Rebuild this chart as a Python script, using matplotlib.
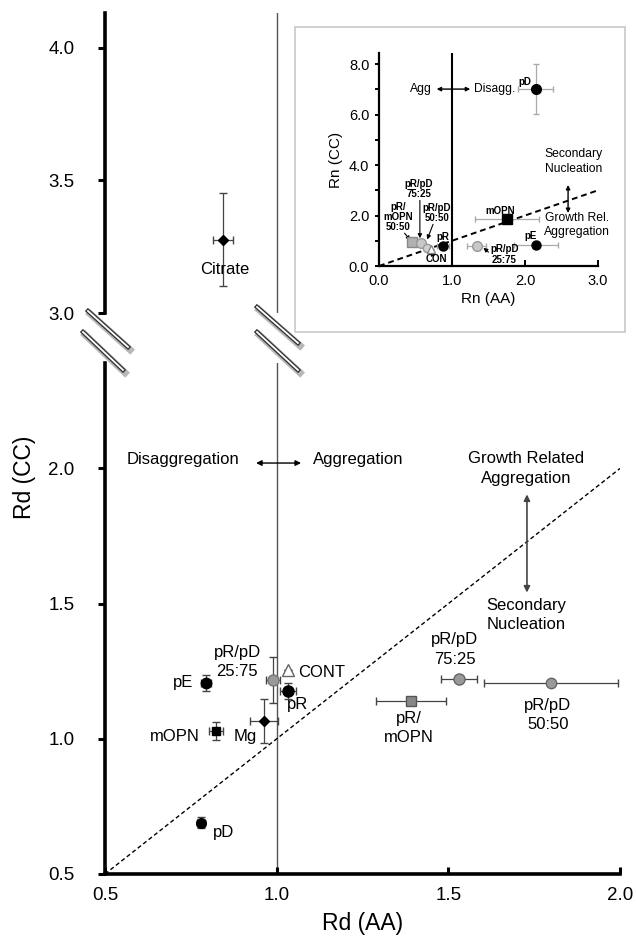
import matplotlib.pyplot as plt
import matplotlib.patheffects as pe
from matplotlib.lines import Line2D
from matplotlib.patches import Rectangle
import numpy as np

plt.rcParams['font.family'] = ['Liberation Sans', 'DejaVu Sans']

# main chart: Rd values (AA vs CC)
names = ['Citrate', 'pE', 'pR/pD 25:75', 'CONT', 'pR', 'Mg', 'mOPN', 'pD',
         'pR/mOPN', 'pR/pD 75:25', 'pR/pD 50:50']
rd_aa = [0.844, 0.794, 0.989, 1.033, 1.033, 0.963, 0.823, 0.780, 1.391, 1.531, 1.799]
rd_cc = [3.276, 1.207, 1.218, 1.256, 1.178, 1.067, 1.030, 0.689, 1.141, 1.222, 1.207]
rd_aa_err = [0.03, 0.015, 0.02, 0.0, 0.023, 0.04, 0.02, 0.012, 0.103, 0.052, 0.195]
rd_cc_err = [0.175, 0.03, 0.085, 0.0, 0.03, 0.082, 0.033, 0.02, 0.0, 0.0, 0.0]

# inset: Rn values
rn_names = ['pD', 'mOPN', 'pE', 'pR', 'pR/pD 25:75', 'pR/mOPN 50:50',
            'pR/pD 75:25', 'pR/pD 50:50', 'CON']
rn_aa = [2.15, 1.75, 2.15, 0.88, 1.34, 0.45, 0.58, 0.66, 0.71]
rn_cc = [7.01, 1.86, 0.83, 0.80, 0.80, 0.95, 0.91, 0.71, 0.67]
rn_aa_err = [0.24, 0.44, 0.30, 0.08, 0.13, 0.0, 0.0, 0.0, 0.0]
rn_cc_err = [1.0, 0.1, 0.1, 0.1, 0.1, 0.0, 0.0, 0.0, 0.0]

W, H = 636, 940


def fx(px):
    return px / W


def fy(py):
    return 1 - py / H


# marker styles (marker, face, edge, size)
main_style = {
    'Citrate': ('D', 'black', 'black', 5),
    'pE': ('o', 'black', 'black', 7.5),
    'pR/pD 25:75': ('o', '#999999', '#777777', 8),
    'CONT': ('^', 'white', '#666666', 8),
    'pR': ('o', 'black', 'black', 8),
    'Mg': ('D', 'black', 'black', 5),
    'mOPN': ('s', 'black', 'black', 6),
    'pD': ('o', 'black', 'black', 7),
    'pR/mOPN': ('s', '#888888', '#555555', 7.5),
    'pR/pD 75:25': ('o', '#999999', '#666666', 8),
    'pR/pD 50:50': ('o', '#999999', '#666666', 7.5),
}
inset_style = {
    'pD': ('o', 'black', 'black', 7),
    'mOPN': ('s', 'black', 'black', 6.5),
    'pE': ('o', 'black', 'black', 6.5),
    'pR': ('o', 'black', 'black', 6.5),
    'pR/pD 25:75': ('o', '#c8c8c8', '#999999', 7),
    'pR/mOPN 50:50': ('s', '#b0b0b0', '#888888', 6.5),
    'pR/pD 75:25': ('o', '#c8c8c8', '#999999', 7),
    'pR/pD 50:50': ('o', '#d0d0d0', '#999999', 6),
    'CON': ('^', 'white', '#888888', 6),
}

fig = plt.figure(figsize=(6.36, 9.40), dpi=100)
ax_lo = fig.add_axes([fx(105), fy(874), fx(620) - fx(105), fy(363) - fy(874)])
ax_hi = fig.add_axes([fx(105), fy(313), fx(620) - fx(105), fy(13) - fy(313)])

for ax in (ax_lo, ax_hi):
    for i, n in enumerate(names):
        m, fc, ec, ms = main_style[n]
        ax.errorbar(rd_aa[i], rd_cc[i], xerr=rd_aa_err[i], yerr=rd_cc_err[i],
                    fmt=m, mfc=fc, mec=ec, ms=ms, mew=1, ecolor='#444444',
                    elinewidth=0.9, capsize=3, capthick=0.9, zorder=3)
    ax.axvline(1.0, color='#555555', lw=1, zorder=1)
    ax.set_xlim(0.5, 2.0)
    ax.spines['top'].set_visible(False)
    ax.spines['right'].set_visible(False)
    ax.spines['left'].set_linewidth(2.6)
    ax.spines['bottom'].set_linewidth(2.6)
    ax.tick_params(axis='y', direction='out', length=5, width=2.2,
                   pad=17, labelsize=13.5)

ax_lo.set_ylim(0.5, 2.39)
ax_hi.set_ylim(3.0, 4.13)
ax_lo.plot([0.5, 2.0], [0.5, 2.0], ls=(0, (3, 2)), color='black', lw=1, zorder=2)

ax_lo.set_xticks([0.5, 1.0, 1.5, 2.0])
ax_lo.set_xticklabels(['0.5', '1.0', '1.5', '2.0'])
ax_lo.set_yticks([0.5, 1.0, 1.5, 2.0])
ax_lo.set_yticklabels(['0.5', '1.0', '1.5', '2.0'])
ax_lo.tick_params(axis='x', direction='in', length=5, width=2.2, pad=9, labelsize=13.5)
ax_hi.set_yticks([3.0, 3.5, 4.0])
ax_hi.set_yticklabels(['3.0', '3.5', '4.0'])
ax_hi.spines['bottom'].set_visible(False)
ax_hi.set_xticks([])

ax_lo.set_xlabel('Rd (AA)', fontsize=16.5, labelpad=6)
fig.text(fx(25), fy(477), 'Rd (CC)', rotation=90, fontsize=16.5, ha='center', va='center')

# point labels
fs = 12
ls2 = 1.35
ax_hi.text(0.85, 3.163, 'Citrate', fontsize=fs, ha='center', va='center')
ax_lo.text(0.758, 1.207, 'pE', fontsize=fs, ha='right', va='center')
ax_lo.text(0.885, 1.285, 'pR/pD\n25:75', fontsize=fs, ha='center', va='center', linespacing=ls2)
ax_lo.text(1.062, 1.244, 'CONT', fontsize=fs, ha='left', va='center')
ax_lo.text(1.03, 1.126, 'pR', fontsize=fs, ha='left', va='center')
ax_lo.text(0.942, 1.007, 'Mg', fontsize=fs, ha='right', va='center')
ax_lo.text(0.776, 1.007, 'mOPN', fontsize=fs, ha='right', va='center')
ax_lo.text(0.815, 0.652, 'pD', fontsize=fs, ha='left', va='center')
ax_lo.text(1.519, 1.33, 'pR/pD\n75:25', fontsize=fs, ha='center', va='center', linespacing=ls2)
ax_lo.text(1.386, 1.039, 'pR/\nmOPN', fontsize=fs, ha='center', va='center', linespacing=ls2)
ax_lo.text(1.79, 1.087, 'pR/pD\n50:50', fontsize=fs, ha='center', va='center', linespacing=ls2)

ax_lo.text(0.890, 2.033, 'Disaggregation', fontsize=fs, ha='right', va='center')
ax_lo.text(1.106, 2.033, 'Aggregation', fontsize=fs, ha='left', va='center')
ax_lo.annotate('', xy=(0.94, 2.02), xytext=(1.071, 2.02),
               arrowprops=dict(arrowstyle='<|-|>', color='black', lw=1,
                               mutation_scale=8, shrinkA=0, shrinkB=0))
ax_lo.text(1.726, 2.0, 'Growth Related\nAggregation', fontsize=fs, ha='center',
           va='center', linespacing=ls2)
ax_lo.text(1.726, 1.457, 'Secondary\nNucleation', fontsize=fs, ha='center',
           va='center', linespacing=ls2)
ax_lo.annotate('', xy=(1.729, 1.904), xytext=(1.729, 1.541),
               arrowprops=dict(arrowstyle='<|-|>', color='#444444', lw=1.2,
                               mutation_scale=9, shrinkA=0, shrinkB=0))

# axis break marks
brk = [((88, 311), (128, 347)), ((83, 332), (123, 370)),
       ((257, 307), (298, 343)), ((257, 332), (298, 370))]
for (x0, y0), (x1, y1) in brk:
    ln = Line2D([fx(x0), fx(x1)], [fy(y0), fy(y1)], transform=fig.transFigure,
                color='white', lw=1.3, zorder=5,
                path_effects=[pe.SimpleLineShadow(offset=(1.5, -2), shadow_color='#888888',
                                                  alpha=0.6, linewidth=5),
                              pe.Stroke(linewidth=3.2, foreground='#333333'),
                              pe.Normal()])
    fig.add_artist(ln)

# inset frame
fig.add_artist(Rectangle((fx(295), fy(332)), fx(625) - fx(295), fy(27) - fy(332),
                         transform=fig.transFigure, fill=False, ec='#c8c8c8', lw=1.2, zorder=4))

axi = fig.add_axes([fx(379), fy(266), fx(598) - fx(379), fy(53) - fy(266)])
axi.patch.set_alpha(0)
for i, n in enumerate(rn_names):
    m, fc, ec, ms = inset_style[n]
    axi.errorbar(rn_aa[i], rn_cc[i], xerr=rn_aa_err[i], yerr=rn_cc_err[i],
                 fmt=m, mfc=fc, mec=ec, ms=ms, mew=1, ecolor='#aaaaaa',
                 elinewidth=0.9, capsize=2, capthick=0.9, zorder=3, clip_on=False)
axi.axvline(1.0, color='black', lw=1.5, zorder=1)
axi.plot([0, 3], [0, 3], ls=(0, (3, 2)), color='black', lw=1.4, zorder=2)
axi.set_xlim(0, 3)
axi.set_ylim(0, 8.44)
axi.spines['top'].set_visible(False)
axi.spines['right'].set_visible(False)
axi.spines['left'].set_linewidth(1.6)
axi.spines['bottom'].set_linewidth(1.6)
axi.set_xticks([0, 1, 2, 3])
axi.set_xticklabels(['0.0', '1.0', '2.0', '3.0'])
axi.set_yticks([0, 2, 4, 6, 8])
axi.set_yticklabels(['0.0', '2.0', '4.0', '6.0', '8.0'])
axi.set_yticks([1, 3, 5, 7], minor=True)
axi.tick_params(axis='x', direction='in', length=4, width=1.4, pad=6, labelsize=10.5)
axi.tick_params(axis='y', which='both', direction='out', length=3, width=1.4,
                pad=4, labelsize=10.5)
axi.set_xlabel('Rn (AA)', fontsize=11, labelpad=3)
axi.set_ylabel('Rn (CC)', fontsize=11, labelpad=4)

ifs = 7
bold = dict(fontsize=ifs, fontweight='bold', ha='center', va='center', linespacing=1.05)
axi.text(2.0, 7.3, 'pD', **bold)
axi.text(1.66, 2.18, 'mOPN', **bold)
axi.text(2.07, 1.19, 'pE', **bold)
axi.text(0.88, 1.15, 'pR', **bold)
axi.text(1.72, 0.45, 'pR/pD\n25:75', **bold)
axi.text(0.26, 1.94, 'pR/\nmOPN\n50:50', **bold)
axi.text(0.55, 3.05, 'pR/pD\n75:25', **bold)
axi.text(0.79, 2.1, 'pR/pD\n50:50', **bold)
axi.text(0.79, 0.28, 'CON', **bold)
arw = dict(arrowstyle='-|>', color='black', lw=0.8, mutation_scale=6, shrinkA=0, shrinkB=0)
axi.annotate('', xy=(1.43, 0.72), xytext=(1.5, 0.55), arrowprops=arw)
axi.annotate('', xy=(0.43, 1.02), xytext=(0.35, 1.3), arrowprops=arw)
axi.annotate('', xy=(0.56, 1.1), xytext=(0.56, 2.6), arrowprops=arw)
axi.annotate('', xy=(0.66, 1.05), xytext=(0.74, 1.65), arrowprops=arw)
axi.annotate('', xy=(0.71, 0.58), xytext=(0.74, 0.42), arrowprops=arw)

its = 8.7
axi.text(0.73, 7.01, 'Agg', fontsize=its, ha='right', va='center')
axi.text(1.3, 7.01, 'Disagg.', fontsize=its, ha='left', va='center')
axi.annotate('', xy=(0.79, 7.01), xytext=(1.25, 7.01),
             arrowprops=dict(arrowstyle='<|-|>', color='black', lw=1,
                             mutation_scale=6, shrinkA=0, shrinkB=0))
axi.text(2.66, 4.14, 'Secondary\nNucleation', fontsize=its, ha='center', va='center',
         linespacing=1.3)
axi.text(2.71, 1.62, 'Growth Rel.\nAggregation', fontsize=its, ha='center', va='center',
         linespacing=1.3)
axi.annotate('', xy=(2.59, 3.21), xytext=(2.59, 2.1),
             arrowprops=dict(arrowstyle='<|-|>', color='black', lw=1,
                             mutation_scale=6, shrinkA=0, shrinkB=0))

plt.savefig('out.png', dpi=100)
